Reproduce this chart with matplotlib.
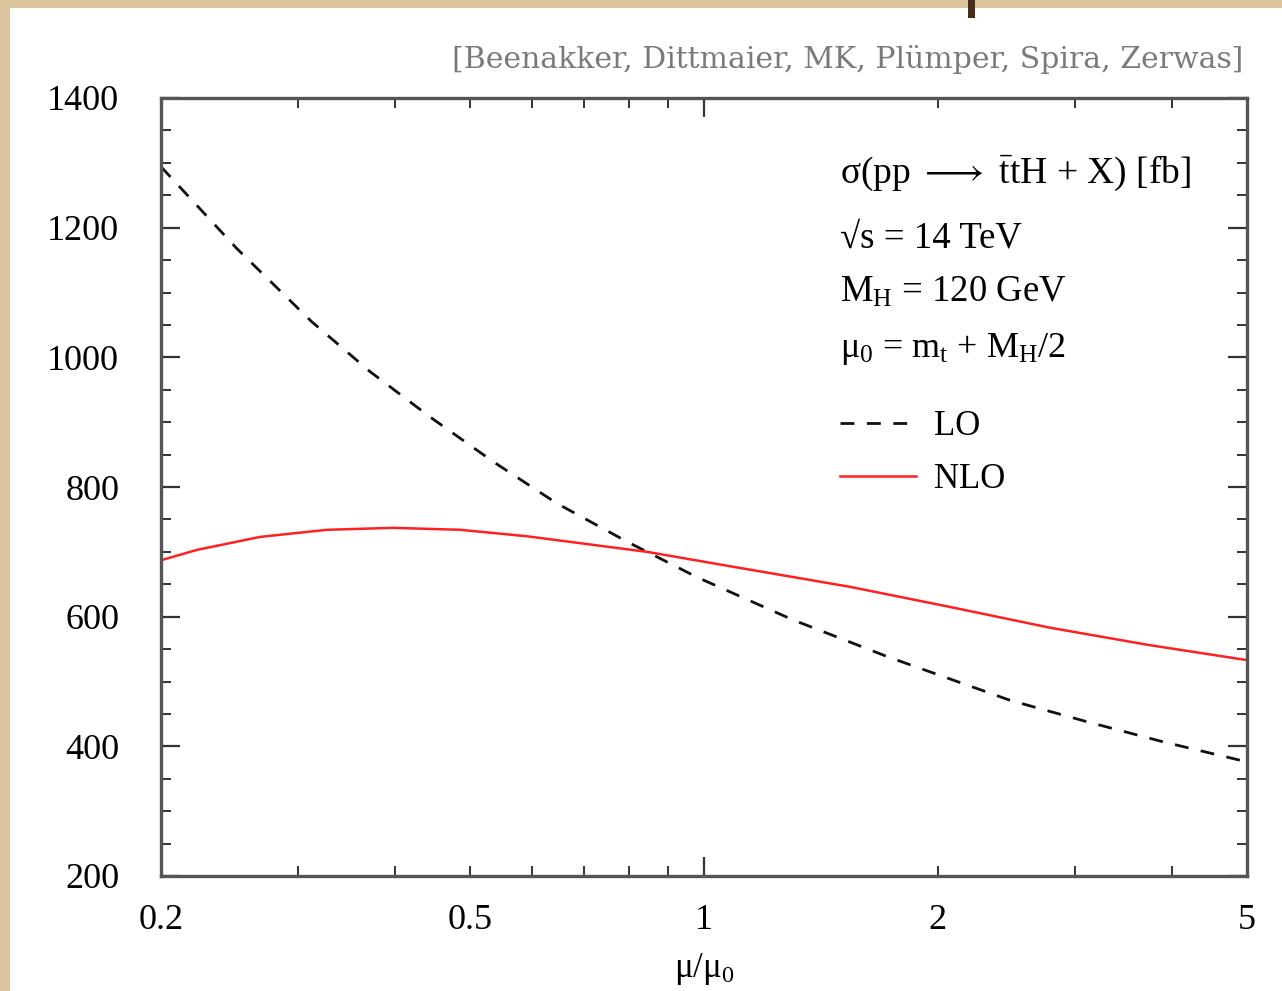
import matplotlib
matplotlib.use("Agg")
import matplotlib.pyplot as plt
from matplotlib.patches import Rectangle
from matplotlib.ticker import FixedLocator, FixedFormatter, NullFormatter

plt.rcParams['font.family'] = ['Liberation Serif', 'DejaVu Serif']
plt.rcParams['mathtext.fontset'] = 'custom'
plt.rcParams['mathtext.rm'] = 'Liberation Serif'
plt.rcParams['mathtext.it'] = 'Liberation Serif:italic'
plt.rcParams['mathtext.sf'] = 'DejaVu Sans'
plt.rcParams['lines.scale_dashes'] = False

# ---- data ----
mu_lo = [0.2, 0.2503, 0.3126, 0.3716, 0.444, 0.5355, 0.646, 0.798, 0.979,
         1.302, 1.725, 2.477, 3.111, 3.898, 5.0]
sigma_lo = [1294, 1168, 1055, 978, 908, 839, 775, 715, 661,
            595, 538, 471, 438, 407, 376]

mu_nlo = [0.2, 0.2225, 0.2682, 0.3271, 0.3978, 0.4853, 0.5918, 0.666, 0.8445,
          1.09, 1.542, 2.073, 2.788, 3.75, 5.0]
sigma_nlo = [687, 703, 723, 734, 737, 734, 724, 716, 700,
             677, 646, 615, 583, 556, 533]

x_major = [1]
x_minor = [0.2, 0.3, 0.4, 0.5, 0.6, 0.7, 0.8, 0.9, 2, 3, 4, 5]
x_minor_labels = ['0.2', '', '', '0.5', '', '', '', '', '2', '', '', '5']
y_major = [200, 400, 600, 800, 1000, 1200, 1400]
y_minor = list(range(250, 1400, 50))

W, H = 1282, 991
fig = plt.figure(figsize=(W / 100, H / 100), dpi=100)
fig.patch.set_facecolor('white')

# parchment border (left and top)
parch = '#dcc59c'
fig.patches.append(Rectangle((0, 0), 10 / W, 1, transform=fig.transFigure,
                             facecolor=parch, edgecolor='none', zorder=-10))
fig.patches.append(Rectangle((0, 1 - 8 / H), 1, 8 / H, transform=fig.transFigure,
                             facecolor=parch, edgecolor='none', zorder=-10))
fig.patches.append(Rectangle((968 / W, 1 - 18 / H), 7 / W, 18 / H, transform=fig.transFigure,
                             facecolor='#4a2a18', edgecolor='none', zorder=-9))

ax = fig.add_axes([161 / W, 1 - 876 / H, 1086 / W, 778 / H])
ax.set_xscale('log')
ax.set_xlim(0.2, 5)
ax.set_ylim(200, 1400)

ax.plot(mu_lo, sigma_lo, color='#111111', lw=2.0, dashes=(10, 9), label='LO')
ax.plot(mu_nlo, sigma_nlo, color='#ff2020', lw=1.8, label='NLO')

ax.xaxis.set_major_locator(FixedLocator(x_major))
ax.xaxis.set_major_formatter(FixedFormatter(['1']))
ax.xaxis.set_minor_locator(FixedLocator(x_minor))
ax.xaxis.set_minor_formatter(FixedFormatter(x_minor_labels))
ax.yaxis.set_major_locator(FixedLocator(y_major))
ax.yaxis.set_minor_locator(FixedLocator(y_minor))
ax.yaxis.set_minor_formatter(NullFormatter())

for s in ax.spines.values():
    s.set_linewidth(2.4)
    s.set_color('#555555')

ax.tick_params(which='both', direction='in', top=True, right=True, color='#333333')
ax.tick_params(which='major', length=14, width=1.6)
ax.tick_params(which='minor', length=7, width=1.4)
ax.tick_params(axis='x', which='both', labelsize=26, pad=20)
ax.tick_params(axis='y', which='both', labelsize=26, pad=30)

ax.set_xlabel(r'μ/μ$_0$', fontsize=25, labelpad=10)

def ay(py):
    return (876 - py) / 778

tx = (840 - 161) / 1086
ax.text(tx, ay(183), r'σ(pp $\longrightarrow$ $\bar{\mathrm{t}}$tH + X) [fb]', transform=ax.transAxes,
        fontsize=27, va='baseline', ha='left')
ax.text(tx, ay(247), '√s = 14 TeV', transform=ax.transAxes,
        fontsize=26.5, va='baseline', ha='left')
ax.text(tx, ay(302), r'M$_\mathrm{H}$ = 120 GeV', transform=ax.transAxes,
        fontsize=26.5, va='baseline', ha='left')
ax.text(tx, ay(357), r'μ$_0$ = m$_\mathrm{t}$ + M$_\mathrm{H}$/2', transform=ax.transAxes,
        fontsize=26, va='baseline', ha='left')

ax.legend(loc='upper left', bbox_to_anchor=(tx, ay(410)), frameon=False,
          fontsize=25, handlelength=2.2, handletextpad=0.5, labelspacing=0.57,
          borderpad=0, borderaxespad=0)

fig.text(1243 / W, 1 - 68 / H, '[Beenakker, Dittmaier, MK, Plümper, Spira, Zerwas]',
         ha='right', va='baseline', fontsize=21.5, color='#7a7a7a',
         family=['DejaVu Serif'])

fig.savefig('out.png', dpi=100, facecolor=fig.get_facecolor())
